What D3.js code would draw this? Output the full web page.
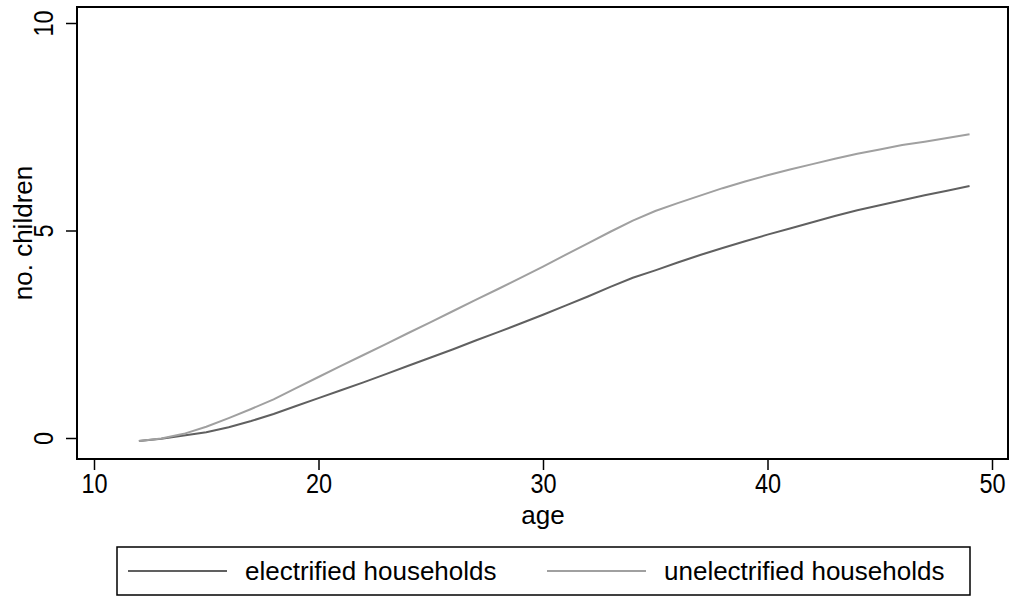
<!DOCTYPE html>
<html>
<head>
<meta charset="utf-8">
<script src="https://cdnjs.cloudflare.com/ajax/libs/d3/7.8.5/d3.min.js"></script>
<style>
  body { margin: 0; background: #fff; }
  text { font-family: "Liberation Sans", Arial, sans-serif; fill: #000; }
</style>
</head>
<body>
<div id="area1"></div>
<script>
// data
var ages = d3.range(12, 50);
var electrified = [-0.07, -0.02, 0.06, 0.14, 0.26, 0.41, 0.58, 0.77, 0.96, 1.15,
  1.34, 1.54, 1.74, 1.94, 2.14, 2.35, 2.55, 2.76, 2.97, 3.19,
  3.41, 3.64, 3.86, 4.04, 4.23, 4.41, 4.58, 4.74, 4.90, 5.05,
  5.20, 5.35, 5.49, 5.61, 5.73, 5.85, 5.96, 6.07];
var unelectrified = [-0.07, -0.01, 0.10, 0.27, 0.48, 0.70, 0.93, 1.20, 1.47, 1.74,
  2.00, 2.26, 2.53, 2.79, 3.06, 3.33, 3.59, 3.86, 4.13, 4.41,
  4.69, 4.97, 5.24, 5.47, 5.66, 5.84, 6.02, 6.18, 6.33, 6.47,
  6.60, 6.73, 6.85, 6.95, 7.06, 7.14, 7.23, 7.32];
var xTicks = [10, 20, 30, 40, 50];
var yTicks = [0, 5, 10];
var seriesNames = ["electrified households", "unelectrified households"];
var seriesColors = ["#606060", "#a0a0a0"];

var W = 1013, H = 597;
// plot region (frame)
var frame = {left: 77, top: 7, right: 1008, bottom: 459};

var svg = d3.select("#area1")
  .append("svg")
    .attr("width", W)
    .attr("height", H);

var x = d3.scaleLinear()
  .domain([10, 50])
  .range([94, 992]);

var y = d3.scaleLinear()
  .domain([0, 10])
  .range([438, 23]);

// frame
svg.append("rect")
    .attr("x", frame.left)
    .attr("y", frame.top)
    .attr("width", frame.right - frame.left)
    .attr("height", frame.bottom - frame.top)
    .attr("fill", "none")
    .attr("stroke", "#000")
    .attr("stroke-width", 2);

// x axis (tick labels are a bit narrow in the original)
var xAxis = svg.append("g")
    .attr("transform", "translate(0," + frame.bottom + ")")
    .call(d3.axisBottom(x).tickValues(xTicks).tickSize(11).tickFormat(d3.format("d")));
xAxis.select(".domain").remove();
xAxis.selectAll("line").attr("stroke", "#000").attr("stroke-width", 1.5);
xAxis.selectAll("text")
    .attr("y", null)
    .attr("dy", null)
    .attr("transform", "translate(0,34) scale(0.84,1)")
    .attr("font-size", 28)
    .attr("font-family", "Liberation Sans, Arial, sans-serif")
    .attr("fill", "#000");

// y axis, labels turned
var yAxis = svg.append("g")
    .attr("transform", "translate(" + frame.left + ",0)")
    .call(d3.axisLeft(y).tickValues(yTicks).tickSize(11).tickFormat(d3.format("d")));
yAxis.select(".domain").remove();
yAxis.selectAll("line").attr("stroke", "#000").attr("stroke-width", 1.5);
yAxis.selectAll("text")
    .attr("x", null)
    .attr("dy", null)
    .attr("text-anchor", "middle")
    .attr("transform", "translate(-24,0) rotate(-90) scale(0.84,1)")
    .attr("font-size", 28)
    .attr("font-family", "Liberation Sans, Arial, sans-serif")
    .attr("fill", "#000");

// axis titles
svg.append("text")
    .attr("x", (x(10) + x(50)) / 2)
    .attr("y", 524)
    .attr("text-anchor", "middle")
    .attr("font-size", 26)
    .text("age");

svg.append("text")
    .attr("transform", "translate(32," + 233 + ") rotate(-90)")
    .attr("text-anchor", "middle")
    .attr("font-size", 26)
    .text("no. children");

// lines
var line = d3.line()
  .x(function(d) { return x(d[0]); })
  .y(function(d) { return y(d[1]); });

[electrified, unelectrified].forEach(function(vals, i) {
  svg.append("path")
      .datum(ages.map(function(a, j) { return [a, vals[j]]; }))
      .attr("d", line)
      .attr("fill", "none")
      .attr("stroke", seriesColors[i])
      .attr("stroke-width", 2);
});

// legend
var legend = svg.append("g");
legend.append("rect")
    .attr("x", 117)
    .attr("y", 547)
    .attr("width", 853)
    .attr("height", 48)
    .attr("fill", "#fff")
    .attr("stroke", "#000")
    .attr("stroke-width", 1.5);

var legendX = [128, 547];
seriesNames.forEach(function(name, i) {
  legend.append("line")
      .attr("x1", legendX[i])
      .attr("x2", legendX[i] + 99)
      .attr("y1", 571)
      .attr("y2", 571)
      .attr("stroke", seriesColors[i])
      .attr("stroke-width", 2);
  legend.append("text")
      .attr("x", legendX[i] + 117)
      .attr("y", 580)
      .attr("font-size", 26)
      .text(name);
});
</script>
</body>
</html>
